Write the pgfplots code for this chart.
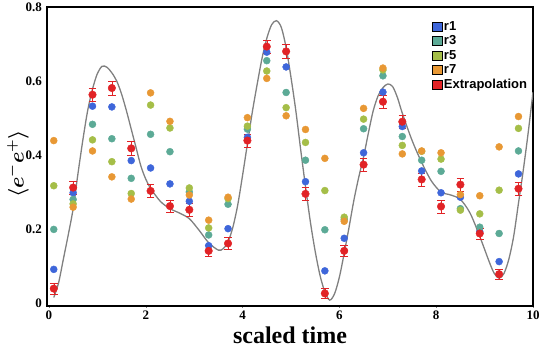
\documentclass[border=0pt]{standalone}
\usepackage{pgfplots}
\pgfplotsset{compat=1.18}
\usepackage{pgfplotstable}
\usepackage{bm}
\usepackage{fontspec}
\setmainfont{Liberation Serif}
\newfontfamily\legfont{Liberation Sans}

\definecolor{cr1}{RGB}{62,102,218}
\definecolor{cr3}{RGB}{92,170,150}
\definecolor{cr5}{RGB}{165,190,72}
\definecolor{cr7}{RGB}{232,152,52}
\definecolor{cex}{RGB}{225,35,38}
\definecolor{cfit}{RGB}{128,128,128}

% time, r1, r3, r5, r7, extrapolation, error
\pgfplotstableread{
t   r1    r3    r5    r7    ex    err
0.1 0.091 0.199 0.317 0.439 0.039 0.015
0.5 0.298 0.280 0.268 0.259 0.312 0.018
0.9 0.532 0.483 0.441 0.411 0.563 0.018
1.3 0.530 0.444 0.382 0.341 0.581 0.019
1.7 0.385 0.337 0.296 0.281 0.418 0.019
2.1 0.365 0.456 0.535 0.568 0.303 0.018
2.5 0.322 0.409 0.473 0.491 0.262 0.017
2.9 0.275 0.300 0.311 0.292 0.252 0.017
3.3 0.155 0.184 0.203 0.224 0.141 0.015
3.7 0.201 0.267 0.282 0.286 0.161 0.016
4.1 0.448 0.470 0.478 0.501 0.439 0.018
4.5 0.678 0.655 0.627 0.607 0.693 0.018
4.9 0.638 0.569 0.528 0.506 0.680 0.019
5.3 0.328 0.386 0.434 0.469 0.295 0.017
5.7 0.087 0.198 0.304 0.391 0.026 0.014
6.1 0.175 0.226 0.232 0.221 0.141 0.015
6.5 0.406 0.471 0.497 0.526 0.374 0.017
6.9 0.570 0.614 0.630 0.635 0.544 0.018
7.3 0.477 0.450 0.426 0.403 0.490 0.017
7.7 0.357 0.386 0.410 0.411 0.334 0.017
8.1 0.298 0.356 0.389 0.406 0.261 0.017
8.5 0.286 0.255 0.251 0.293 0.320 0.017
8.9 0.193 0.205 0.241 0.290 0.188 0.015
9.3 0.112 0.188 0.305 0.422 0.078 0.013
9.7 0.349 0.411 0.472 0.504 0.309 0.018
}\datatab

\begin{document}
\begin{tikzpicture}
\begin{axis}[
    name=ax,
    scale only axis,
    width=486pt, height=299pt,
    xmin=-0.04, xmax=10,
    ymin=-0.008, ymax=0.8,
    xtick={0,2,4,6,8,10},
    ytick={0,0.2,0.4,0.6,0.8},
    yticklabels={0,0.2,0.4,0.6,0.8},
    axis line style={line width=1.6pt},
    major tick length=3pt,
    tick align=center,
    xtick pos=left, ytick pos=left,
    tick label style={font=\fontsize{13}{13}\selectfont\bfseries},
    /pgf/number format/assume math mode=true,
    xlabel={scaled time},
    xlabel style={font=\fontsize{24}{24}\selectfont\bfseries, inner sep=0pt,
        at={(axis description cs:0.5,-0.124)}, anchor=base},
    ylabel={$\bm{\langle e^{-}e^{+}\rangle}$},
    ylabel style={font=\fontsize{22}{22}\selectfont, inner sep=0pt,
        at={(axis description cs:-0.060,0.475)}, anchor=center},
    legend style={at={(0.786,0.967)}, anchor=north west, draw=none,
        fill=none, font=\legfont\fontsize{13}{14}\selectfont\bfseries},
    legend cell align=left,
    legend image post style={xscale=0.55, yscale=1.6},
]
% fitted curve
\addplot[cfit, line width=1.3pt, smooth, forget plot] coordinates {
(0.1,0.015) (0.2,0.055) (0.3,0.12) (0.4,0.185) (0.5,0.255) (0.6,0.35)
(0.7,0.44) (0.8,0.52) (0.9,0.578) (1.0,0.62) (1.1,0.64) (1.2,0.637)
(1.3,0.622) (1.4,0.60) (1.5,0.565) (1.6,0.52) (1.7,0.47) (1.8,0.42)
(1.9,0.37) (2.0,0.335) (2.1,0.31) (2.3,0.275) (2.5,0.255) (2.7,0.243)
(2.9,0.228) (3.1,0.197) (3.3,0.163) (3.5,0.143) (3.6,0.147) (3.7,0.165)
(3.8,0.205) (3.9,0.265) (4.0,0.345) (4.1,0.43) (4.2,0.515) (4.3,0.59)
(4.4,0.66) (4.5,0.715) (4.6,0.752) (4.7,0.763) (4.8,0.745) (4.9,0.69)
(5.0,0.61) (5.1,0.52) (5.2,0.415) (5.3,0.315) (5.4,0.22) (5.5,0.14)
(5.6,0.075) (5.7,0.03) (5.8,0.008) (5.9,0.025) (6.0,0.07) (6.1,0.135)
(6.2,0.205) (6.3,0.278) (6.4,0.34) (6.5,0.395) (6.6,0.46) (6.7,0.52)
(6.8,0.56) (6.9,0.582) (7.0,0.592) (7.1,0.585) (7.2,0.555) (7.3,0.513)
(7.5,0.44) (7.7,0.38) (7.9,0.33) (8.1,0.30) (8.3,0.292) (8.5,0.28)
(8.7,0.243) (8.9,0.18) (9.1,0.11) (9.2,0.08) (9.3,0.067) (9.4,0.08)
(9.5,0.118) (9.6,0.18) (9.7,0.27) (9.8,0.36) (9.9,0.46) (10.0,0.57)
};
\addplot[only marks, mark=*, mark size=3.5pt, color=cr1, forget plot] table[x=t, y=r1] {\datatab};
\addplot[only marks, mark=*, mark size=3.5pt, color=cr3, forget plot] table[x=t, y=r3] {\datatab};
\addplot[only marks, mark=*, mark size=3.5pt, color=cr5, forget plot] table[x=t, y=r5] {\datatab};
\addplot[only marks, mark=*, mark size=3.5pt, color=cr7, forget plot] table[x=t, y=r7] {\datatab};
\addplot[only marks, mark=*, mark size=3.8pt, color=cex, forget plot,
    error bars/.cd, y dir=both, y explicit]
    table[x=t, y=ex, y error=err] {\datatab};
% legend entries
\addlegendimage{area legend, draw=none, fill=cr1}
\addlegendentry{r1}
\addlegendimage{area legend, draw=none, fill=cr3}
\addlegendentry{r3}
\addlegendimage{area legend, draw=none, fill=cr5}
\addlegendentry{r5}
\addlegendimage{area legend, draw=none, fill=cr7}
\addlegendentry{r7}
\addlegendimage{area legend, draw=none, fill=cex}
\addlegendentry{Extrapolation}
\end{axis}
\pgfresetboundingbox
\path ([xshift=-47pt,yshift=-43pt]ax.south west) rectangle ([xshift=7pt,yshift=7pt]ax.north east);
\end{tikzpicture}
\end{document}
